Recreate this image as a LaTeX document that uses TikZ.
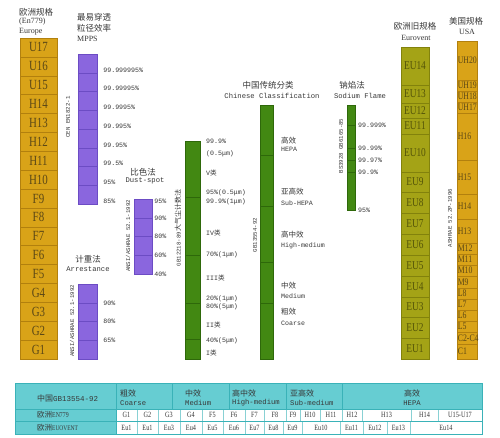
\documentclass[tikz,border=0pt]{standalone}
\usepackage{fontspec}
\setmainfont{Liberation Serif}
\setmonofont{Liberation Mono}
\newfontfamily\cjk{Noto Sans CJK SC}
\newfontfamily\narrow[FakeStretch=0.78]{Liberation Serif}
\usetikzlibrary{positioning}

\definecolor{goldfill}{RGB}{217,163,24}
\definecolor{goldline}{RGB}{178,128,14}
\definecolor{goldtext}{RGB}{92,72,22}
\definecolor{violetfill}{RGB}{138,102,222}
\definecolor{violetline}{RGB}{108,76,196}
\definecolor{grassfill}{RGB}{66,136,18}
\definecolor{grassline}{RGB}{46,104,10}
\definecolor{olivefill}{RGB}{164,163,22}
\definecolor{oliveline}{RGB}{130,130,12}
\definecolor{olivetext}{RGB}{84,84,8}
\definecolor{tealfill}{RGB}{102,205,210}
\definecolor{tealline}{RGB}{58,178,184}
\definecolor{ink}{RGB}{56,56,56}

\begin{document}
\begin{tikzpicture}
		[x=1pt,y=-1pt,inner sep=0pt,
		every node/.style={text=ink},
		cell/.style={draw=#1line,fill=#1fill,line width=.4pt},
		head/.style={font=\cjk\fontsize{8.5}{9}\selectfont},
		en/.style={font=\fontsize{8}{9}\selectfont},
		tt/.style={font=\ttfamily\fontsize{7.2}{8}\selectfont},
		pct/.style={anchor=west,font=\ttfamily\fontsize{6.6}{7}\selectfont},
		std/.style={rotate=90,font=\ttfamily\fontsize{5.7}{6}\selectfont},
		tab/.style={font=\narrow\fontsize{8}{9}\selectfont}]
		\fill[white] (0,0) rectangle (500,437);
		\useasboundingbox (0,0) rectangle (500,437);
		
		% Europe EN779
		\node[head,anchor=west] (enh1) at (19,12) {欧洲规格};
		\node[en,anchor=west] (enh2) at (19,22) {(En779)};
		\node[en,anchor=west] (enh3) at (19,32) {Europe};
		\foreach \lab [count=\i] in {U17,U16,U15,H14,H13,H12,H11,H10,F9,F8,F7,F6,F5,G4,G3,G2,G1}
		\node[cell=gold,minimum width=37pt,minimum height=18.88pt,text=goldtext,
		font=\narrow\fontsize{14}{14}\selectfont] (en\i) at (38.5,{38+18.88*(\i-.5)}) {\lab};
		
		% MPPS
		\node[head,anchor=west] (mph1) at (77,17) {最易穿透};
		\node[head,anchor=west] (mph2) at (77,28) {粒径效率};
		\node[en,anchor=west] (mph3) at (77,39) {MPPS};
		\foreach \lab [count=\i] in {99.999995\%,99.99995\%,99.9995\%,99.995\%,99.95\%,99.5\%,95\%,85\%}{
			\node[cell=violet,minimum width=19pt,minimum height=18.75pt] (mp\i) at (87.5,{54+18.75*(\i-.5)}) {};
			\node[pct] (mpl\i) at ([xshift=6pt,yshift=3pt]mp\i.south east) {\lab};
		}
		\node[std] (cen) at (68,117) {CEN EN1822-1};
		
		% arrestance
		\node[head] (arh1) at (88,259) {计重法};
		\node[tt] (arh2) at (88,269) {Arrestance};
		\foreach \i in {1,...,4}
		\node[cell=violet,minimum width=19pt,minimum height=18.75pt] (ar\i) at (87.5,{284+18.75*(\i-.5)}) {};
		\foreach \lab [count=\i] in {90\%,80\%,65\%}
		\node[pct] (arl\i) at ([xshift=6pt]ar\i.south east) {\lab};
		\node[std] (ansia) at (72,321) {ANSI/ASHRAE 52.1-1992};
		
		% dust-spot
		\node[head] (dsh1) at (143,172) {比色法};
		\node[tt] (dsh2) at (145,181) {Dust-spot};
		\foreach \i in {1,...,4}
		\node[cell=violet,minimum width=18pt,minimum height=18.75pt] (ds\i) at (143,{199+18.75*(\i-.5)}) {};
		\node[pct] (dsl0) at ([xshift=2pt,yshift=-3pt]ds1.north east) {95\%};
		\foreach \lab [count=\i] in {90\%,80\%,60\%,40\%}
		\node[pct] (dsl\i) at ([xshift=2pt]ds\i.south east) {\lab};
		\node[std] (ansib) at (128,236) {ANSI/ASHRAE 52.1-1992};
		
		% GB12218-89
		\foreach \a/\b in {141/197,197/255,255/303,303/339,339/359}
		\draw[cell=grass] (185,\a) rectangle (200,\b);
		\foreach \y/\lab [count=\i] in {141/99.9\%,154/(0.5μm),173/V{\cjk 类},193/95\%(0.5μm),202/99.9\%(1μm),
			233/IV{\cjk 类},255/70\%(1μm),278/III{\cjk 类},299/20\%(1μm),307/80\%(5μm),325/II{\cjk 类},341/40\%(5μm),353/I{\cjk 类}}
		\node[pct] (gbl\i) at (206,\y) {\lab};
		\node[std] (gbcount) at (178,228) {GB12218-89{\cjk\fontsize{7}{7}\selectfont 大气尘计数法}};
		
		% Chinese classification
		\node[head] (cch1) at (268,85) {中国传统分类};
		\node[tt] (cch2) at (272,96) {Chinese Classification};
		\foreach \a/\b in {105/155,155/206,206/262,262/303,303/359}
		\draw[cell=grass] (260,\a) rectangle (273,\b);
		\foreach \y/\lab [count=\i] in {141/高效,192/亚高效,235/高中效,286/中效,312/粗效}
		\node[anchor=west,font=\cjk\fontsize{7.5}{8}\selectfont] (ccc\i) at (281,\y) {\lab};
		\foreach \y/\lab [count=\i] in {149/HEPA,203/Sub-HEPA,246/High-medium,296/Medium,323/Coarse}
		\node[pct] (cce\i) at (281,\y) {\lab};
		\node[std] (gbclass) at (255,235) {GB13554-92};
		
		% sodium flame
		\node[head] (nah1) at (352,85) {钠焰法};
		\node[tt] (nah2) at (360,96) {Sodium Flame};
		\foreach \a/\b in {105/125,125/148,148/160,160/172,172/210}
		\draw[cell=grass] (347,\a) rectangle (355,\b);
		\foreach \y/\lab [count=\i] in {125/99.999\%,148/99.99\%,160/99.97\%,172/99.9\%,210/95\%}
		\node[pct] (nal\i) at (358,\y) {\lab};
		\node[std] (bs) at (341,146) {BS3928 GB6165-85};
		
		% Eurovent
		\node[head] (evh1) at (415,26) {欧洲旧规格};
		\node[en] (evh2) at (416,38) {Eurovent};
		\foreach \a/\b/\lab in {47/85/EU14,85/103/EU13,103/118/EU12,118/134/EU11,134/172/EU10,172/192/EU9,192/213/EU8,
			213/234/EU7,234/255/EU6,255/276/EU5,276/297/EU4,297/317/EU3,317/338/EU2,338/359/EU1}
		\node[cell=olive,minimum width=28pt,minimum height={(\b-\a)*1pt},text=olivetext,
		font=\narrow\fontsize{12}{12}\selectfont] (ev\lab) at (415,{(\a+\b)/2}) {\lab};
		
		% USA
		\node[head] (ush1) at (466,21) {美国规格};
		\node[en] (ush2) at (467,32) {USA};
		\foreach \a/\b/\lab [count=\i] in {41/80/UH20,80/91/UH19,91/102/UH18,102/113/UH17,113/160/H16,160/194/H15,
			194/219/H14,219/243/H13,243/254/M12,254/265/M11,265/276/M10,276/288/M9,288/299/L8,299/310/L7,
			310/321/L6,321/332/L5,332/344/C2-C4,344/359/C1}{
			\node[cell=gold,minimum width=20pt,minimum height={(\b-\a)*1pt}] (us\i) at (467,{(\a+\b)/2}) {};
			\node[anchor=west,text=goldtext,font=\narrow\fontsize{10}{10}\selectfont] (usl\i) at ([xshift=.8pt]us\i.west) {\lab};
		}
		\node[std] (ashrae) at (450,218) {ASHRAE 52.2P-1996};
		
		% comparison table
		\fill[tealfill] (15,383) rectangle (482,409) (15,409) rectangle (116,434);
		\foreach \x in {172,229,286,342} \draw[tealline] (\x,383) -- (\x,409);
		\foreach \a/\b/\lab [count=\i] in {116/137/G1,137/158/G2,158/180/G3,180/202/G4,202/223/F5,223/245/F6,245/264/F7,
			264/286/F8,286/300/F9,300/320/H10,320/342/H11,342/362/H12,362/411/H13,411/438/H14,438/482/U15-U17}{
			\draw[tealline!60] (\b,409) -- (\b,421);
			\node[tab] (ra\i) at ({(\a+\b)/2},415) {\lab};
		}
		\foreach \a/\b/\lab [count=\i] in {116/137/Eu1,137/158/Eu1,158/180/Eu3,180/202/Eu4,202/223/Eu5,223/245/Eu6,245/264/Eu7,
			264/283/Eu8,283/302/Eu9,302/340/Eu10,340/363/Eu11,363/387/Eu12,387/410/Eu13,410/482/Eu14}{
			\draw[tealline!60] (\b,421) -- (\b,434);
			\node[tab] (rb\i) at ({(\a+\b)/2},427.5) {\lab};
		}
		\draw[tealline,line width=.6pt] (15,383) rectangle (482,434) (15,409) -- (482,409) (15,421) -- (482,421) (116,383) -- (116,434);
		\node[anchor=west,font=\cjk\fontsize{8}{9}\selectfont] (rh0) at (37,398) {中国{\ttfamily\fontsize{7.5}{8}\selectfont GB13554-92}};
		\node[anchor=west,font=\cjk\fontsize{7.5}{8}\selectfont] (ra0) at (37,415) {欧洲{\narrow\fontsize{7.5}{8}\selectfont EN779}};
		\node[anchor=west,font=\cjk\fontsize{7.5}{8}\selectfont] (rb0) at (37,427.5) {欧洲{\narrow\fontsize{7}{8}\selectfont EUOVENT}};
		\foreach \x/\c/\e [count=\i] in {120/粗效/Coarse,185/中效/Medium,232/高中效/High-medium,290/亚高效/Sub-medium}{
			\node[anchor=west,font=\cjk\fontsize{8}{9}\selectfont] (rc\i) at (\x,393) {\c};
			\node[anchor=west,tt] (re\i) at (\x,403) {\e};
		}
		\node[font=\cjk\fontsize{8}{9}\selectfont] (rc5) at (412,393) {高效};
		\node[tt] (re5) at (412,403) {HEPA};
\end{tikzpicture}
\end{document}
